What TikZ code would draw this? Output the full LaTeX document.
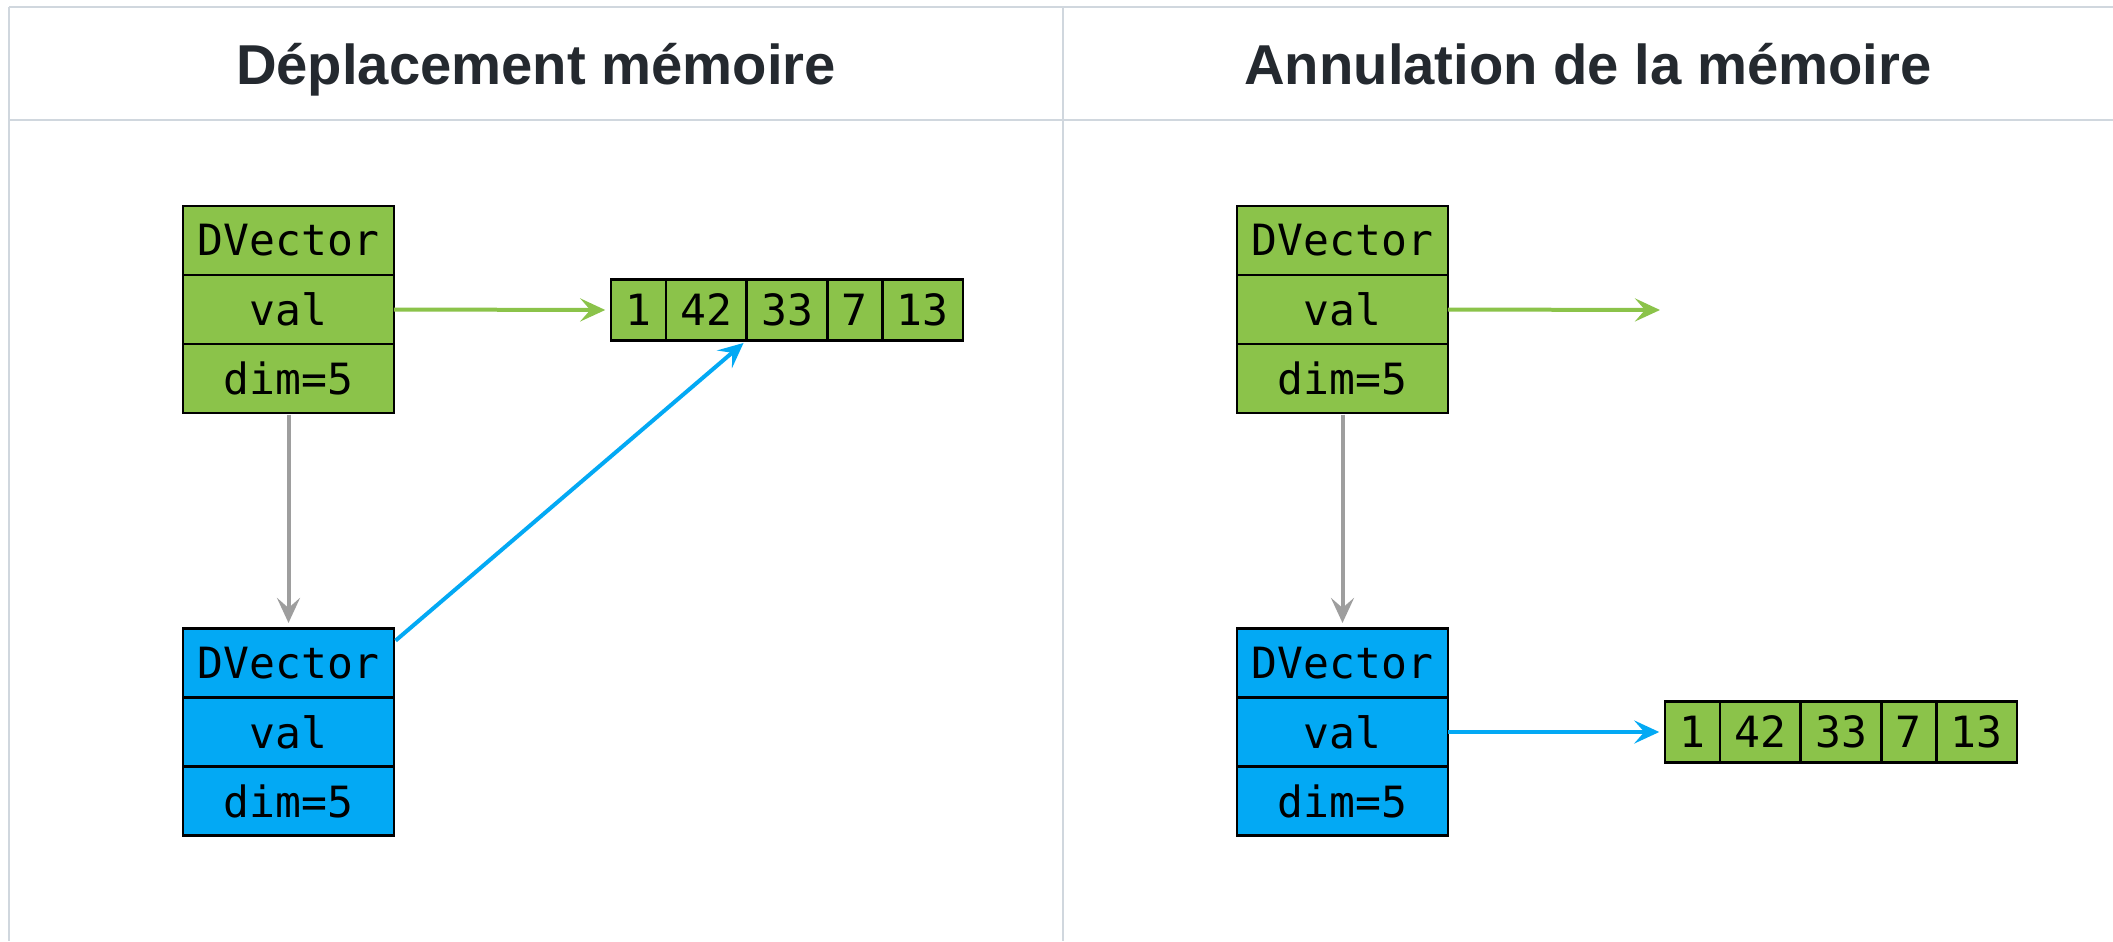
\documentclass[tikz,border=0pt]{standalone}
\usepackage{fontspec}
\setmainfont{Liberation Sans}
\newfontfamily\monofont{DejaVu Sans Mono}
\usetikzlibrary{matrix, arrows.meta, positioning}

\definecolor{vgreen}{HTML}{8BC34A}
\definecolor{vblue}{HTML}{03A9F4}
\definecolor{vgray}{HTML}{9E9E9E}
\definecolor{gridline}{HTML}{D0D7DE}
\definecolor{headink}{HTML}{24292F}

\begin{document}
\begin{tikzpicture}[x=0.02cm, y=-0.02cm,
  field/.style={draw=black, line width=0.05cm, inner sep=0pt, outer sep=0pt,
    minimum width=4.22cm, minimum height=1.38cm, font=\fontsize{24.5}{28}\selectfont\monofont},
  vstruct/.style={matrix of nodes, inner sep=0pt, row sep=-0.05cm, nodes={field, fill=#1}},
  varray/.style={matrix of nodes, inner sep=0pt, column sep=-0.05cm,
    nodes={field, fill=vgreen, minimum width=0pt, minimum height=1.22cm, inner xsep=0.29cm}},
  link/.style={line width=0.08cm, shorten >=0.08cm, -{Stealth[length=0.5cm, width=0.46cm, inset=0.2cm]}},
  tableline/.style={draw=gridline, line width=0.04cm},
  headtext/.style={font=\fontsize{32}{36}\selectfont\bfseries, text=headink, anchor=base}]

\useasboundingbox (0,0) rectangle (2113,941);
\fill[white] (0,0) rectangle (2113,941);

% table frame
\draw[tableline] (9,7) -- (2113,7);
\draw[tableline] (9,120) -- (2113,120);
\draw[tableline] (9,7) -- (9,941);
\draw[tableline] (1063,7) -- (1063,941);

\node[headtext] (titleA) at (536,84) {Déplacement mémoire};
\node[headtext] (titleB) at (1588,84) {Annulation de la mémoire};

% left column
\begin{scope}
\matrix (gvecA) [vstruct=vgreen] at (288.5,309.5) {DVector\\ val\\ dim=5\\};
\matrix (bvecA) [vstruct=vblue] at (288.5,732) {DVector\\ val\\ dim=5\\};
\matrix (arrA) [varray] at (787,310) {1 & 42 & 33 & 7 & 13\\};

\draw[link, vgreen] (gvecA-2-1.east) -- (arrA.west);
\draw[link, vgray] (gvecA.south) -- (bvecA.north);
\draw[link, vblue] (bvecA) -- (arrA-1-2.south east);
\end{scope}

% right column
\begin{scope}
\matrix (gvecB) [vstruct=vgreen] at (1342.5,309.5) {DVector\\ val\\ dim=5\\};
\matrix (bvecB) [vstruct=vblue] at (1342.5,732) {DVector\\ val\\ dim=5\\};
\matrix (arrB) [varray] at (1841,732) {1 & 42 & 33 & 7 & 13\\};
\coordinate (nullptr) at (1664,310);

\draw[link, vgreen] (gvecB-2-1.east) -- (nullptr);
\draw[link, vgray] (gvecB.south) -- (bvecB.north);
\draw[link, vblue] (bvecB-2-1.east) -- (arrB.west);
\end{scope}

\end{tikzpicture}
\end{document}
